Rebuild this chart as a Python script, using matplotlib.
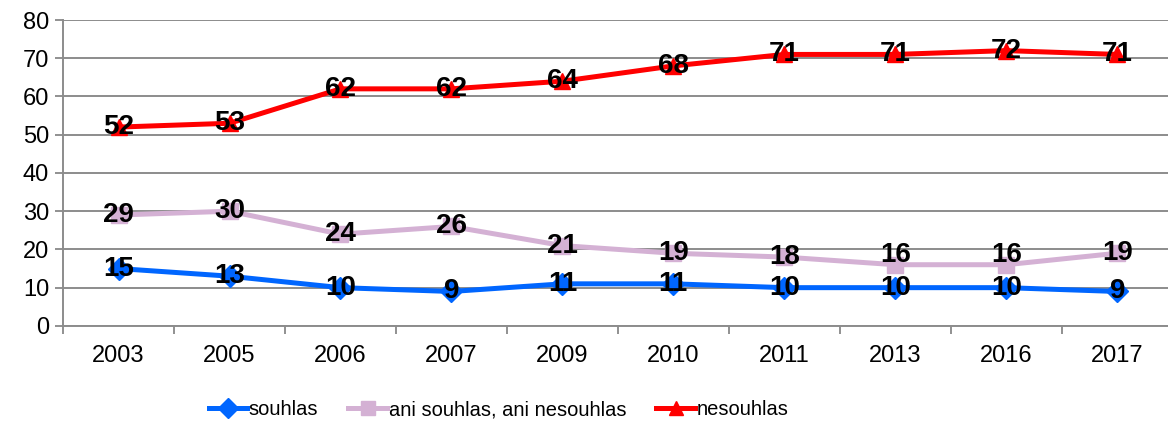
import numpy as np
import matplotlib.pyplot as plt

plt.rcParams['font.family'] = ['Liberation Sans', 'DejaVu Sans']

# data
roky = ["2003", "2005", "2006", "2007", "2009", "2010", "2011", "2013", "2016", "2017"]
souhlas = [15, 13, 10, 9, 11, 11, 10, 10, 10, 9]
ani_ani = [29, 30, 24, 26, 21, 19, 18, 16, 16, 19]
nesouhlas = [52, 53, 62, 62, 64, 68, 71, 71, 72, 71]

serie = [
    ("souhlas", souhlas, "#0066FF", "D"),
    ("ani souhlas, ani nesouhlas", ani_ani, "#D4B1D4", "s"),
    ("nesouhlas", nesouhlas, "#FF0000", "^"),
]

fig = plt.figure(figsize=(11.68, 4.26), dpi=100)
ax = fig.add_axes([0.054, 0.235, 0.95, 0.718])

x = np.arange(len(roky))
for nazev, hodnoty, barva, znacka in serie:
    ax.plot(x, hodnoty, color=barva, lw=3.6, marker=znacka, ms=11,
            mec=barva, mfc=barva, label=nazev, zorder=3)
    for xi, v in zip(x, hodnoty):
        # popisky u 16 mirne nad bodem, jako v originale
        dy = 2.5 if (nazev.startswith("ani") and v == 16) else 0
        ax.text(xi, v + dy, str(v), ha="center", va="center", fontsize=20,
                fontweight="bold", color="black", zorder=4)

ax.set_ylim(0, 80)
ax.set_yticks(range(0, 81, 10))
ax.set_xlim(-0.5, 9.5)
ax.set_xticks(x)
ax.set_xticklabels(roky)
ax.set_xticks(np.arange(-0.5, 10, 1), minor=True)
ax.tick_params(axis="x", which="major", length=0, labelsize=17, pad=14)
ax.tick_params(axis="x", which="minor", length=6, color="#888888", width=1.3)
ax.tick_params(axis="y", length=6, color="#888888", width=1.3, labelsize=17, pad=4)

ax.grid(axis="y", color="#8c8c8c", lw=1.4)
ax.set_axisbelow(True)
for s in ["top", "right"]:
    ax.spines[s].set_visible(False)
for s in ["left", "bottom"]:
    ax.spines[s].set_color("#8c8c8c")
    ax.spines[s].set_linewidth(1.4)

leg = ax.legend(loc="center left", bbox_to_anchor=(0.163, 0.038), bbox_transform=fig.transFigure,
                ncol=3, frameon=False, handlelength=1.9, columnspacing=1.5, handletextpad=0.1,
                markerscale=0.9, fontsize=14.5)

plt.savefig("out.png", dpi=100)
